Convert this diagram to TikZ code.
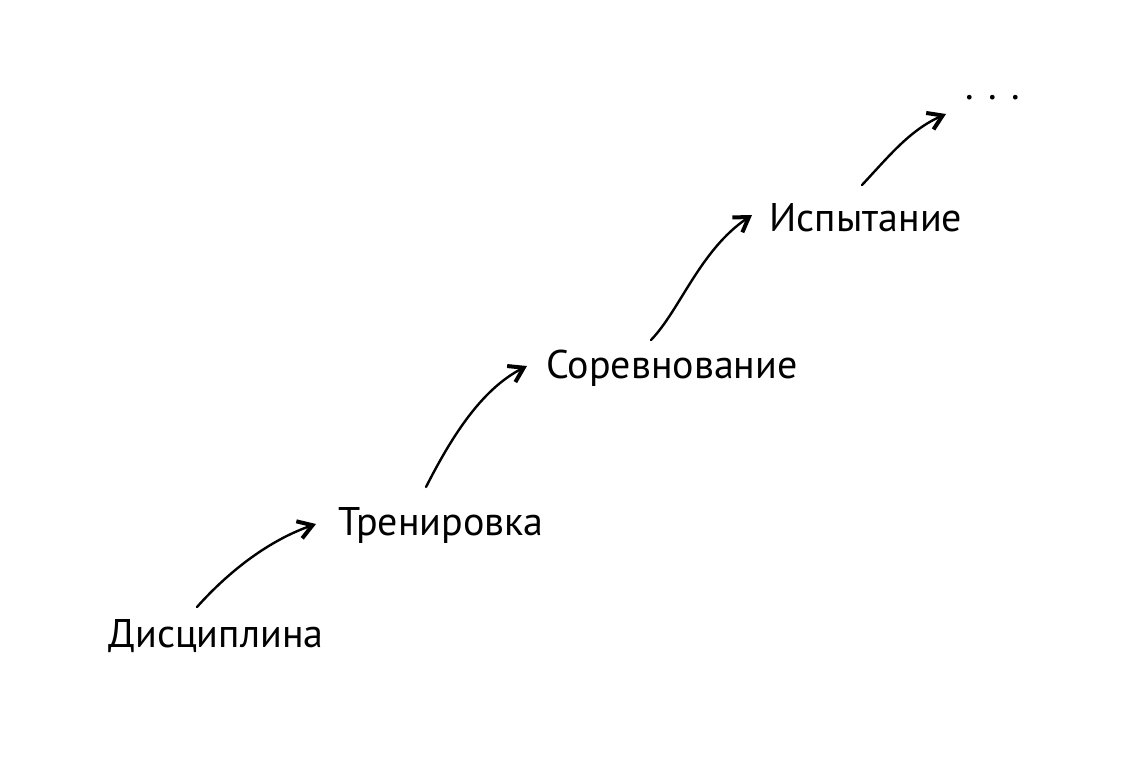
\documentclass[tikz,border=0pt]{standalone}
\usepackage{fontspec}
\setmainfont{PT Sans}
\usetikzlibrary{arrows.meta}
\begin{document}
\begin{tikzpicture}[x=1pt,y=-1pt,
  lbl/.style={font=\fontsize{40}{44}\selectfont, inner sep=0pt},
  hand/.style={line width=2.4pt, line cap=round, -{Straight Barb[length=14pt,width=18pt,line width=4pt]}}]
\useasboundingbox (0,0) rectangle (1134,756);
\node[lbl] (d) at (216,636) {Дисциплина};
\node[lbl] (t) at (441,525) {Тренировка};
\node[lbl] (s) at (672,368) {Соревнование};
\node[lbl] (i) at (866,218) {Испытание};
\node[lbl] (e) at (993,98) {. . .};
\coordinate (a1) at (197,607); \coordinate (b1) at (316,524);
\coordinate (a2) at (426,487); \coordinate (b2) at (527,366);
\coordinate (a3) at (651,340); \coordinate (b3) at (752,215);
\coordinate (a4) at (862,185); \coordinate (b4) at (946,114);
\draw[hand] (a1) .. controls (230,570) and (270,540) .. (b1);
\draw[hand] (a2) .. controls (450,440) and (480,390) .. (b2);
\draw[hand] (a3) .. controls (680,310) and (700,250) .. (b3);
\draw[hand] (a4) .. controls (890,155) and (910,130) .. (b4);
\end{tikzpicture}
\end{document}
